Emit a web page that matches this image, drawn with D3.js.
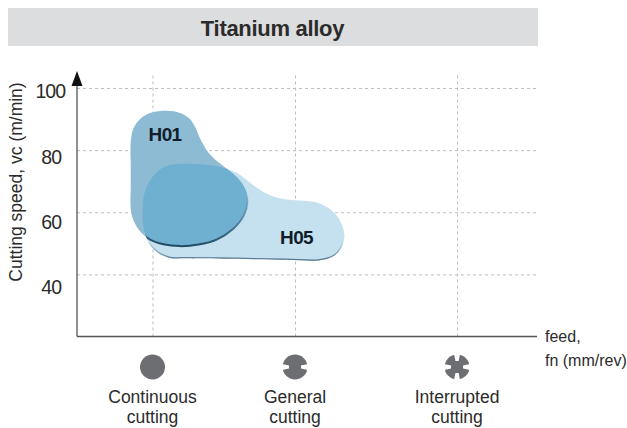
<!DOCTYPE html>
<html>
<head>
<meta charset="utf-8">
<script src="https://cdn.jsdelivr.net/npm/d3@7"></script>
<style>
  html, body { margin: 0; padding: 0; background: #fff; }
  text { font-family: "Liberation Sans", Arial, sans-serif; fill: #2b2b2b; }
</style>
</head>
<body>
<div id="chart"></div>
<script>
const titleText = "Titanium alloy";
const speedTicks = [100, 80, 60, 40];
const gridSpeeds = [100, 80, 60, 40];
const feedStops = [1, 2, 3.137];
const cuttingTypes = [["Continuous", "cutting"], ["General", "cutting"], ["Interrupted", "cutting"]];

// outlines: [feed position, speed]
const h01 = [[0.847, 82.7], [0.866, 87.0], [0.917, 90.2], [0.994, 92.1], [1.099, 92.7], [1.193, 92.0],
  [1.259, 90.2], [1.298, 87.5], [1.333, 83.8], [1.38, 80.0], [1.439, 77.0], [1.52, 74.1],
  [1.602, 70.8], [1.654, 67.1], [1.668, 63.3], [1.642, 59.0], [1.567, 54.7], [1.45, 51.2],
  [1.322, 49.6], [1.193, 49.1], [1.076, 49.7], [0.983, 51.2], [0.912, 53.9], [0.866, 57.4],
  [0.847, 61.2], [0.847, 68.2], [0.847, 75.7]];
const h05 = [[0.931, 60.6], [0.94, 65.5], [0.983, 70.3], [1.053, 73.8], [1.123, 75.2], [1.216, 75.6],
  [1.357, 75.4], [1.474, 74.6], [1.591, 72.7], [1.708, 68.7], [1.825, 65.5], [1.942, 64.1],
  [2.058, 63.7], [2.164, 63.0], [2.257, 60.6], [2.321, 56.9], [2.346, 52.6], [2.327, 48.8],
  [2.269, 45.8], [2.164, 44.5], [1.942, 44.7], [1.591, 45.0], [1.24, 45.2], [1.123, 45.3],
  [1.041, 46.9], [0.983, 49.4], [0.948, 53.1], [0.931, 57.4]];

var svg = d3.select("#chart").append("svg").attr("width", 627).attr("height", 428).style("display", "block");

var x = d3.scaleLinear().domain([0.47, 3.698]).range([77, 537]);
var y = d3.scaleLinear().domain([20, 105]).range([336.5, 72.5]);
// the printed numbers sit a little off their gridlines
var yLabel = d3.scaleLinear().domain([100, 40]).range([91.5, 287.5]);

// title band
svg.append("rect").attr("x", 8).attr("y", 8).attr("width", 530).attr("height", 38).attr("fill", "#dcddde");
svg.append("text").attr("x", 272.5).attr("y", 36).attr("text-anchor", "middle")
  .attr("font-size", 22).attr("font-weight", "bold").attr("letter-spacing", -0.3).text(titleText);

// grid
var gridY = svg.append("g").attr("transform", "translate(77,0)")
  .call(d3.axisLeft(y).tickValues(gridSpeeds).tickSize(-460).tickFormat(""));
gridY.select(".domain").remove();
var gridX = svg.append("g").attr("transform", "translate(0,336.5)")
  .call(d3.axisBottom(x).tickValues(feedStops).tickSize(-264).tickFormat(""));
gridX.select(".domain").remove();
svg.selectAll(".tick line").attr("stroke", "#bdbdbd").attr("stroke-dasharray", "3,3");

// blobs
var defs = svg.append("defs");
var blob = d3.line().x(d => x(d[0])).y(d => y(d[1])).curve(d3.curveCatmullRomClosed.alpha(0.5));

defs.append("clipPath").attr("id", "clip-h05").append("path").attr("d", blob(h05));

function edgeGradient(id, color, start) {
  var g = defs.append("linearGradient").attr("id", id).attr("x1", 0).attr("y1", 0).attr("x2", 0).attr("y2", 1);
  g.append("stop").attr("offset", "0%").attr("stop-color", color).attr("stop-opacity", 0);
  g.append("stop").attr("offset", start).attr("stop-color", color).attr("stop-opacity", 0);
  g.append("stop").attr("offset", "100%").attr("stop-color", color).attr("stop-opacity", 1);
}
edgeGradient("edge-h05", "#4d6f84", "80%");
edgeGradient("edge-over", "#1f4a63", "62%");

svg.append("path").attr("d", blob(h05)).attr("fill", "#c5e1ef");
svg.append("path").attr("d", blob(h05)).attr("fill", "none").attr("stroke", "url(#edge-h05)")
  .attr("stroke-width", 2.5).attr("clip-path", "url(#clip-h05)");
svg.append("path").attr("d", blob(h01)).attr("fill", "#8dbbd3");

svg.append("g").attr("clip-path", "url(#clip-h05)").append("path").attr("d", blob(h01))
  .attr("fill", "#6fafcf").attr("stroke", "url(#edge-over)").attr("stroke-width", 2);

svg.append("text").attr("x", 165).attr("y", 141).attr("text-anchor", "middle")
  .attr("font-size", 19).attr("font-weight", "bold").attr("letter-spacing", -0.7)
  .style("fill", "#111d2b").text("H01");
svg.append("text").attr("x", 296.5).attr("y", 244).attr("text-anchor", "middle")
  .attr("font-size", 19).attr("font-weight", "bold").attr("letter-spacing", -0.7)
  .style("fill", "#111d2b").text("H05");

// axes
svg.append("line").attr("x1", 77).attr("x2", 77).attr("y1", 336.5).attr("y2", 80).attr("stroke", "#555").attr("stroke-width", 1.3);
svg.append("line").attr("x1", 77).attr("x2", 537).attr("y1", 336.5).attr("y2", 336.5).attr("stroke", "#555").attr("stroke-width", 1.3);
svg.append("path").attr("d", "M77,71 L82.5,86 L71.5,86 Z").attr("fill", "#111");

// speed labels
svg.selectAll(".speed-label").data(speedTicks).join("text").attr("class", "speed-label")
  .attr("x", d => d == 100 ? 65 : 61).attr("y", d => yLabel(d))
  .attr("dy", "0.35em").attr("text-anchor", "end").attr("font-size", 19.5).attr("letter-spacing", -1).text(d => d);

svg.append("text").attr("transform", "translate(22,182) rotate(-90)").attr("text-anchor", "middle")
  .attr("font-size", 17.5).text("Cutting speed, vc (m/min)");

svg.append("text").attr("x", 545).attr("y", 342).attr("font-size", 16).text("feed,");
svg.append("text").attr("x", 545).attr("y", 366).attr("font-size", 16).text("fn (mm/rev)");

// cutting type icons
var iconColor = "#6d6e71";
var icons = svg.selectAll(".icon").data(feedStops).join("g").attr("class", "icon")
  .attr("transform", d => "translate(" + x(d) + ",367)");
icons.append("circle").attr("r", 12.5).attr("fill", iconColor);

// side notches for general + interrupted, top/bottom only for interrupted
icons.filter((d, i) => i > 0).selectAll(".side").data([0, 180]).join("path")
  .attr("d", "M-14,-3.2 L-6,-1.6 L-6,1.6 L-14,3.2 Z").attr("fill", "#fff")
  .attr("transform", d => "rotate(" + d + ")");
icons.filter((d, i) => i == 2).selectAll(".upright").data([90, 270]).join("path")
  .attr("d", "M-14,-3.2 L-6,-1.6 L-6,1.6 L-14,3.2 Z").attr("fill", "#fff")
  .attr("transform", d => "rotate(" + d + ")");

// category labels
var cats = svg.selectAll(".cat").data(cuttingTypes).join("text").attr("class", "cat")
  .attr("text-anchor", "middle").attr("font-size", 17.5);
cats.append("tspan").attr("x", (d, i) => x(feedStops[i])).attr("y", 403).text(d => d[0]);
cats.append("tspan").attr("x", (d, i) => x(feedStops[i])).attr("y", 423).text(d => d[1]);
</script>
</body>
</html>
